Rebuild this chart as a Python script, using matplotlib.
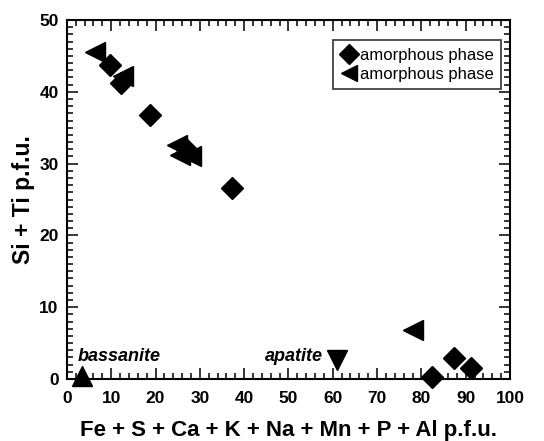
import matplotlib
matplotlib.use("Agg")
import matplotlib.pyplot as plt
from matplotlib.ticker import MultipleLocator

# Data
diamond_x = [9.7, 12.3, 18.7, 27.2, 37.3, 82.3, 87.4, 91.1]
diamond_y = [43.7, 41.2, 36.8, 31.9, 26.6, 0.3, 2.9, 1.6]
left_x = [6.3, 12.7, 24.8, 25.5, 28.1, 78.0]
left_y = [45.6, 42.2, 32.6, 31.2, 31.0, 6.8]
bassanite_x, bassanite_y = [3.3], [0.4]
apatite_x, apatite_y = [61.0], [2.6]
legend_labels = ["amorphous phase", "amorphous phase"]

FAM = ["Liberation Sans Narrow", "Liberation Sans", "DejaVu Sans"]
plt.rcParams['font.family'] = FAM

fig = plt.figure(figsize=(5.44, 4.41), dpi=100)
ax = fig.add_axes([0.123, 0.1406, 0.8145, 0.814])

ax.plot(diamond_x, diamond_y, 'D', color='black', ms=11.5, ls='none', label=legend_labels[0], clip_on=False)
ax.plot(left_x, left_y, '<', color='black', ms=14, ls='none', label=legend_labels[1], clip_on=False)
ax.plot(bassanite_x, bassanite_y, '^', color='black', ms=14, ls='none', clip_on=False)
ax.plot(apatite_x, apatite_y, 'v', color='black', ms=14, ls='none', clip_on=False)

ax.text(2.5, 2.5, "bassanite", fontsize=13, fontweight='bold', fontstyle='italic', ha='left', va='baseline')
ax.text(57.8, 2.5, "apatite", fontsize=13, fontweight='bold', fontstyle='italic', ha='right', va='baseline')

ax.set_xlim(0, 100)
ax.set_ylim(0, 50)
ax.xaxis.set_major_locator(MultipleLocator(10))
ax.xaxis.set_minor_locator(MultipleLocator(2))
ax.yaxis.set_major_locator(MultipleLocator(10))
ax.yaxis.set_minor_locator(MultipleLocator(1))
ax.tick_params(which='both', direction='in', top=True, right=True, width=1.1)
ax.tick_params(which='major', length=8)
ax.tick_params(which='minor', length=4)
ax.tick_params(axis='both', labelsize=12.5)
ax.tick_params(axis='x', pad=9)
ax.tick_params(axis='y', pad=6)
for lab in ax.get_xticklabels() + ax.get_yticklabels():
    lab.set_fontweight('bold')
for s in ax.spines.values():
    s.set_linewidth(1.5)

ax.set_xlabel("Fe + S + Ca + K + Na + Mn + P + Al p.f.u.", fontsize=16, fontweight='bold', labelpad=10)
ax.set_ylabel("Si + Ti p.f.u.", fontsize=16.5, fontweight='bold', labelpad=3)

leg = ax.legend(loc='upper right', bbox_to_anchor=(0.980, 0.944), borderaxespad=0, fontsize=12,
                frameon=True, fancybox=False, edgecolor='black', handletextpad=0.15, handlelength=1.0,
                borderpad=0.45, labelspacing=0.25, markerscale=0.85)
leg.get_frame().set_linewidth(1.2)

fig.savefig("out.png", dpi=100)
